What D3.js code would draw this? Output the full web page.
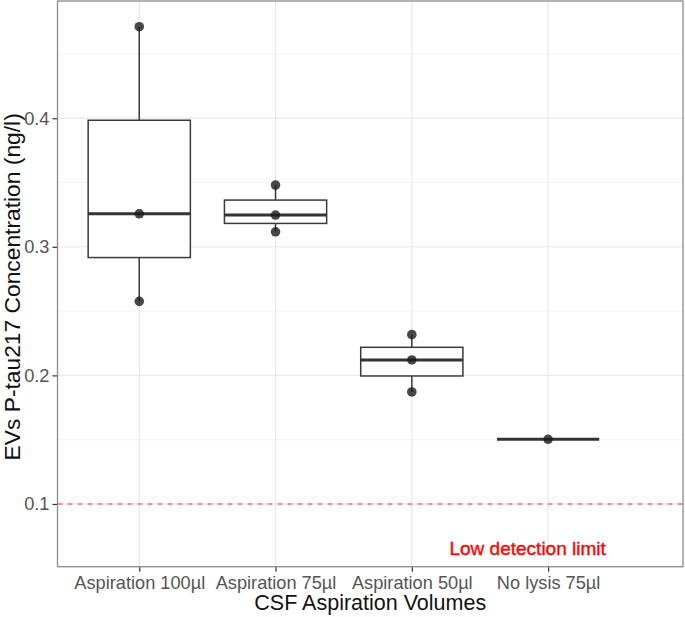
<!DOCTYPE html>
<html>
<head>
<meta charset="utf-8">
<script src="https://cdn.jsdelivr.net/npm/d3@7"></script>
<style>
  body { margin: 0; background: #fff; }
  svg { display: block; font-family: "Liberation Sans", Arial, sans-serif; }
</style>
</head>
<body>
<div id="chart"></div>
<script>
// values
const categories = ['Aspiration 100µl', 'Aspiration 75µl', 'Aspiration 50µl', 'No lysis 75µl'];
const values = [
  [0.4712, 0.3257, 0.2576],
  [0.3480, 0.3247, 0.3117],
  [0.2317, 0.2120, 0.1871],
  [0.1503]
];
const yTicks = [0.1, 0.2, 0.3, 0.4];
const yMinor = [0.15, 0.25, 0.35, 0.45];
const detectionLimit = 0.1;
const noteLabel = 'Low detection limit';
const notePos = [3.85, 0.0605];

const w = 685;
const h = 617;
const padL = 57.5, padR = 683, padT = 1, padB = 566.7;

const svg = d3.select('#chart')
  .append('svg')
  .attr('width', w)
  .attr('height', h);

const x = d3.scaleLinear().domain([0.4, 4.99]).range([padL, padR]);
const y = d3.scaleLinear().domain([0.0512, 0.4912]).range([padB, padT]);
const boxW = x(1.75) - x(1);

// grid
svg.append('g')
  .selectAll('line')
  .data(yMinor)
  .enter()
  .append('line')
  .attr('x1', padL).attr('x2', padR)
  .attr('y1', d => y(d)).attr('y2', d => y(d))
  .attr('stroke', '#f2f2f2')
  .attr('stroke-width', 0.9);

svg.append('g')
  .selectAll('line')
  .data(yTicks)
  .enter()
  .append('line')
  .attr('x1', padL).attr('x2', padR)
  .attr('y1', d => y(d)).attr('y2', d => y(d))
  .attr('stroke', '#ebebeb')
  .attr('stroke-width', 1.3);

svg.append('g')
  .selectAll('line')
  .data(categories)
  .enter()
  .append('line')
  .attr('x1', (d, i) => x(i + 1)).attr('x2', (d, i) => x(i + 1))
  .attr('y1', padT).attr('y2', padB)
  .attr('stroke', '#ebebeb')
  .attr('stroke-width', 1.3);

// box stats
const stats = values.map(function (v) {
  const s = v.slice().sort(d3.ascending);
  const q1 = d3.quantile(s, 0.25);
  const med = d3.quantile(s, 0.5);
  const q3 = d3.quantile(s, 0.75);
  const iqr = q3 - q1;
  const lo = d3.min(s.filter(d => d >= q1 - 1.5 * iqr));
  const hi = d3.max(s.filter(d => d <= q3 + 1.5 * iqr));
  return { q1: q1, med: med, q3: q3, lo: lo, hi: hi };
});

const boxes = svg.append('g')
  .selectAll('g')
  .data(stats)
  .enter()
  .append('g');

boxes.append('line')
  .attr('x1', (d, i) => x(i + 1)).attr('x2', (d, i) => x(i + 1))
  .attr('y1', d => y(d.q3)).attr('y2', d => y(d.hi))
  .attr('stroke', '#3a3a3a').attr('stroke-width', 1.5);

boxes.append('line')
  .attr('x1', (d, i) => x(i + 1)).attr('x2', (d, i) => x(i + 1))
  .attr('y1', d => y(d.q1)).attr('y2', d => y(d.lo))
  .attr('stroke', '#3a3a3a').attr('stroke-width', 1.5);

boxes.append('rect')
  .attr('x', (d, i) => x(i + 1) - boxW / 2)
  .attr('y', d => y(d.q3))
  .attr('width', boxW)
  .attr('height', d => y(d.q1) - y(d.q3))
  .attr('fill', '#fff')
  .attr('stroke', '#3a3a3a')
  .attr('stroke-width', 1.5);

boxes.append('line')
  .attr('x1', (d, i) => x(i + 1) - boxW / 2).attr('x2', (d, i) => x(i + 1) + boxW / 2)
  .attr('y1', d => y(d.med)).attr('y2', d => y(d.med))
  .attr('stroke', '#333').attr('stroke-width', 3);

// points
const pts = [];
values.forEach((v, i) => v.forEach(d => pts.push({ i: i, v: d })));

svg.append('g')
  .selectAll('circle')
  .data(pts)
  .enter()
  .append('circle')
  .attr('cx', d => x(d.i + 1))
  .attr('cy', d => y(d.v))
  .attr('r', 4.8)
  .attr('fill', '#1a1a1a')
  .attr('fill-opacity', 0.8);

// detection limit
svg.append('line')
  .attr('x1', padL).attr('x2', padR)
  .attr('y1', y(detectionLimit)).attr('y2', y(detectionLimit))
  .attr('stroke', '#ff7070')
  .attr('stroke-width', 1.4)
  .attr('stroke-dasharray', '5,5');

svg.append('text')
  .attr('x', x(notePos[0]))
  .attr('y', y(notePos[1]))
  .attr('text-anchor', 'middle')
  .attr('fill', '#ff0000')
  .attr('stroke', '#ff0000')
  .attr('stroke-width', 0.35)
  .style('font-size', '19px')
  .text(noteLabel);

// axes
const yAxis = d3.axisLeft(y).tickValues(yTicks).tickSize(5).tickPadding(3).tickFormat(d3.format('.1f'));
const xAxis = d3.axisBottom(x).tickValues(categories.map((d, i) => i + 1)).tickSize(5).tickPadding(4)
  .tickFormat(d => categories[d - 1]);

const gy = svg.append('g')
  .attr('transform', `translate(${padL},0)`)
  .call(yAxis);
const gx = svg.append('g')
  .attr('transform', `translate(0,${padB})`)
  .call(xAxis);

[gx, gy].forEach(function (g) {
  g.select('.domain').remove();
  g.selectAll('.tick line').attr('stroke', '#333').attr('stroke-width', 1.2);
  g.selectAll('.tick text')
    .attr('fill', '#555')
    .style('font-size', '18.2px')
    .style('font-family', '"Liberation Sans", Arial, sans-serif');
});

// panel border
svg.append('rect')
  .attr('x', padL).attr('y', padT)
  .attr('width', padR - padL).attr('height', padB - padT)
  .attr('fill', 'none')
  .attr('stroke', '#8a8a8a')
  .attr('stroke-width', 1.3);

// titles
svg.append('text')
  .attr('x', (padL + padR) / 2)
  .attr('y', 610)
  .attr('text-anchor', 'middle')
  .attr('fill', '#111')
  .style('font-size', '21.5px')
  .text('CSF Aspiration Volumes');

svg.append('text')
  .attr('transform', `translate(19.5,${(padT + padB) / 2 + 3}) rotate(-90)`)
  .attr('text-anchor', 'middle')
  .attr('fill', '#111')
  .style('font-size', '22.8px')
  .text('EVs P-tau217 Concentration (ng/l)');
</script>
</body>
</html>
